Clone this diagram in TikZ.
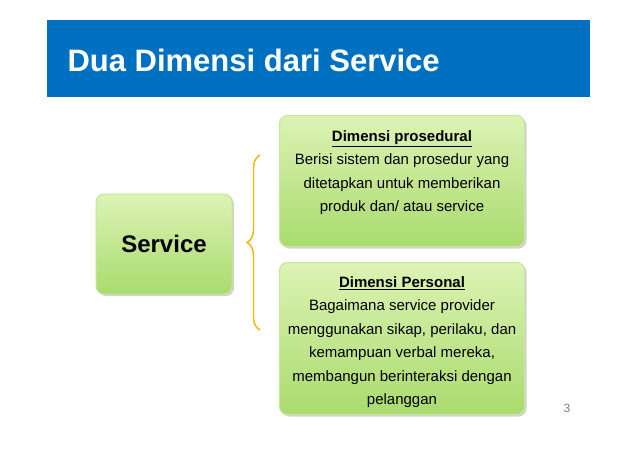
\documentclass[tikz,border=0pt]{standalone}
\usepackage{fontspec}
\setmainfont{Liberation Sans}
\usetikzlibrary{decorations.pathreplacing,shadows}
\definecolor{hdr}{HTML}{0070C0}
\definecolor{gtop}{HTML}{DDF3B4}
\definecolor{gbot}{HTML}{A9DB6E}
\definecolor{gline}{HTML}{C4E79A}
\definecolor{brc}{HTML}{F4B400}
\tikzset{
  gbox/.style={draw=gline, line width=1pt, rounded corners=8pt, top color=gtop, bottom color=gbot, drop shadow={shadow xshift=2pt,shadow yshift=-2pt,opacity=0.35}, align=center},
  gtxt/.style={align=center, font=\fontsize{15}{23.5}\selectfont, anchor=north},
}
\begin{document}
\begin{tikzpicture}[x=1pt,y=-1pt]
\useasboundingbox (0,0) rectangle (638,451);
\fill[white] (0,0) rectangle (638,451);
\fill[hdr] (47,20) rectangle (590,97);
\node[anchor=west, text=white, font=\fontsize{31}{34}\bfseries] (title) at (64,60) {Dua Dimensi dari Service};
\node[gbox, minimum width=136, minimum height=100, font=\fontsize{24}{26}\bfseries] (svc) at (164,244) {Service};
\node[gbox, minimum width=245, minimum height=131, anchor=north west] (top) at (279,115) {};
\node[gtxt] (toptxt) at (top.north) [yshift=-12] {\textbf{\underline{Dimensi prosedural}}\\Berisi sistem dan prosedur yang\\ditetapkan untuk memberikan\\produk dan/ atau service};
\node[gbox, minimum width=245, minimum height=152, anchor=north west] (bot) at (279,262) {};
\node[gtxt] (bottxt) at (bot.north) [yshift=-11] {\textbf{\underline{Dimensi Personal}}\\Bagaimana service provider\\menggunakan sikap, perilaku, dan\\kemampuan verbal mereka,\\membangun berinteraksi dengan\\pelanggan};
\coordinate (b1) at (260,330);
\coordinate (b2) at (260,155);
\draw[brc, line width=1.4pt, decorate, decoration={brace, amplitude=13pt}] (b1) -- (b2);
\node[text=gray, font=\fontsize{12}{14}\selectfont] (pg) at (567,408) {3};
\end{tikzpicture}
\end{document}
